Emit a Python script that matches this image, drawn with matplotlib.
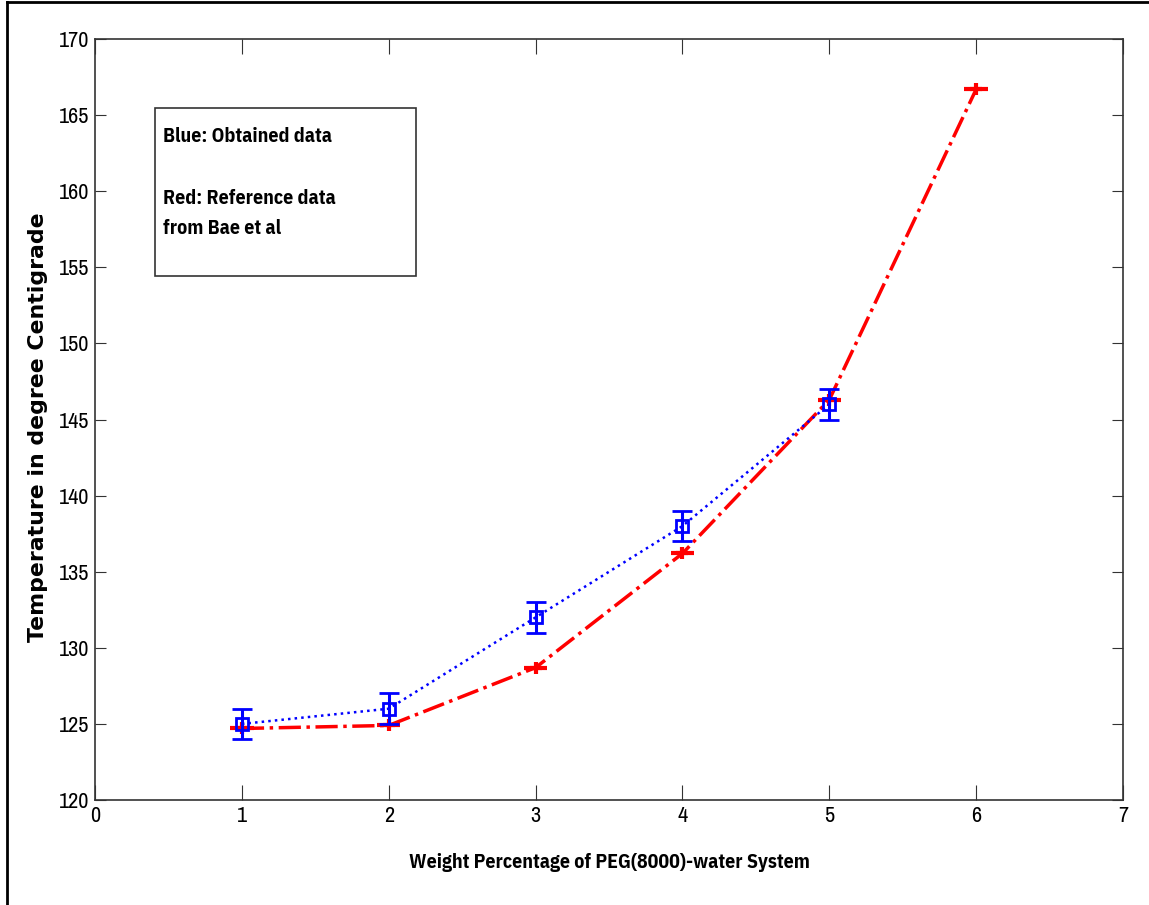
import matplotlib
matplotlib.use("Agg")
import matplotlib.pyplot as plt
from matplotlib.patches import Rectangle
from matplotlib.lines import Line2D

# Weight percentage of PEG(8000) in water
wt_obtained = [1, 2, 3, 4, 5]
temp_obtained = [125, 126, 132, 138, 146]
err_obtained = [1, 1, 1, 1, 1]

wt_reference = [1, 2, 3, 4, 5, 6]
temp_reference = [124.7, 124.9, 128.7, 136.2, 146.3, 166.7]

xticks = [0, 1, 2, 3, 4, 5, 6, 7]
yticks = [120, 125, 130, 135, 140, 145, 150, 155, 160, 165, 170]

narrow = ['Liberation Sans Narrow', 'Archivo Narrow', 'Arimo', 'Liberation Sans', 'DejaVu Sans']
narrow_bold = ['IBM Plex Sans Condensed', 'Open Sans Condensed', 'Liberation Sans', 'DejaVu Sans']
plt.rcParams['font.family'] = narrow

fig = plt.figure(figsize=(11.49, 9.05), dpi=100)
ax = fig.add_axes([0.0827, 0.116, 0.8947, 0.8409])

# reference data (red, dash-dot with plus markers)
ax.errorbar(wt_reference, temp_reference, xerr=0.08, color='red', linestyle='-.',
            linewidth=2.5, marker='+', markersize=9, markeredgewidth=3,
            elinewidth=3, capsize=0, zorder=2)

# obtained data (blue, dotted with square markers and error bars)
ax.errorbar(wt_obtained, temp_obtained, yerr=err_obtained, color='blue', linestyle=':',
            linewidth=1.8, marker='s', markersize=8, markerfacecolor='none',
            markeredgewidth=2, elinewidth=2.2, capsize=7, capthick=2.2, zorder=3)

ax.set_xlim(0, 7)
ax.set_ylim(120, 170)
ax.set_xticks(xticks)
ax.set_yticks(yticks)
ax.tick_params(direction='in', labelsize=16, top=True, right=True, colors='#333333',
               labelcolor='black')
ax.tick_params(axis='x', length=11, pad=4)
ax.tick_params(axis='y', length=8, pad=4)
for s in ax.spines.values():
    s.set_linewidth(1.2)
    s.set_color('#333333')

ax.set_xlabel('Weight Percentage of PEG(8000)-water System', fontsize=14.3,
              fontweight='bold', family=narrow_bold, labelpad=20)
ax.set_ylabel('Temperature in degree Centigrade', fontsize=15.8, fontweight='bold',
              family=['DejaVu Sans'], labelpad=8)
ax.yaxis.label.set_y(0.49)

# text box describing the colours
ax.add_patch(Rectangle((0.0584, 0.6886), 0.2539, 0.2207, transform=ax.transAxes,
                       fill=False, edgecolor='#333333', linewidth=1.2, zorder=4))
ax.text(0.066, 0.872, 'Blue: Obtained data', transform=ax.transAxes,
        fontsize=14.3, fontweight='bold', family=narrow_bold, va='center')
ax.text(0.066, 0.790, 'Red: Reference data', transform=ax.transAxes,
        fontsize=14.3, fontweight='bold', family=narrow_bold, va='center')
ax.text(0.066, 0.751, 'from Bae et al', transform=ax.transAxes,
        fontsize=14.3, fontweight='bold', family=narrow_bold, va='center')

# screenshot frame on the left and top edge
fig.add_artist(Line2D([0.0065, 0.0065], [0, 0.998], transform=fig.transFigure,
                      color='black', linewidth=2))
fig.add_artist(Line2D([0.0065, 1], [0.998, 0.998], transform=fig.transFigure,
                      color='black', linewidth=2))

fig.savefig('out.png', dpi=100)
